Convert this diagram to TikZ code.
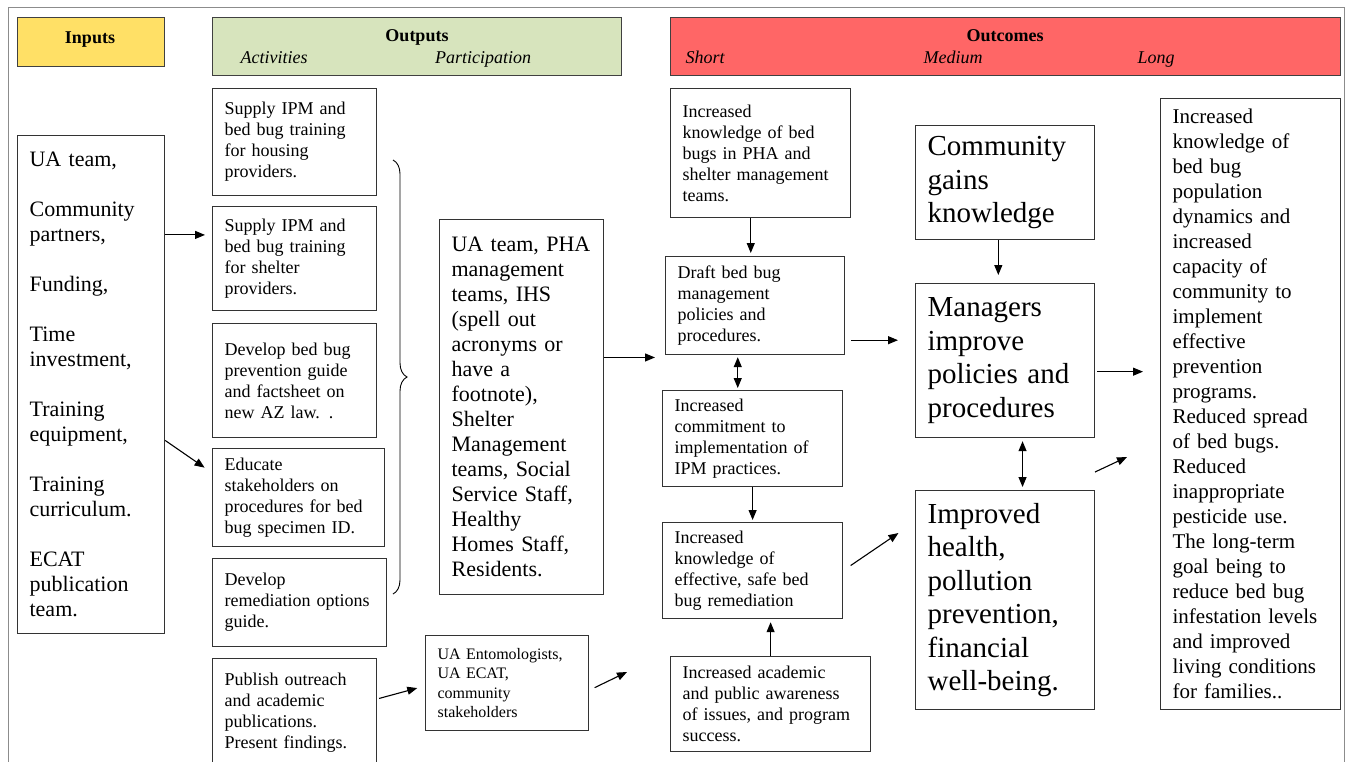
\documentclass[tikz,border=0pt]{standalone}
\usepackage{fontspec}
\setmainfont{Liberation Serif}
\usetikzlibrary{arrows.meta,decorations.pathreplacing}

\definecolor{inyellow}{RGB}{255,224,102}
\definecolor{outgreen}{RGB}{215,228,189}
\definecolor{outred}{RGB}{255,102,102}

\tikzset{
  box/.style={draw=black!80, line width=1.2pt, anchor=north west, align=left,
    inner xsep=12pt, inner ysep=6pt, font=\fontsize{18}{21}\selectfont},
  midbox/.style={box, font=\fontsize{22}{25}\selectfont},
  bigbox/.style={box, font=\fontsize{29}{33.5}\selectfont},
  head/.style={draw=black!75, line width=1.4pt, anchor=north west},
  title/.style={anchor=base, font=\bfseries\fontsize{18}{21}\selectfont},
  sub/.style={anchor=base, font=\itshape\fontsize{18}{21}\selectfont},
  arr/.style={-{Triangle[length=10pt,width=8pt]}, line width=1.1pt},
  dbl/.style={{Triangle[length=10pt,width=8pt]}-{Triangle[length=10pt,width=8pt]}, line width=1.1pt}
}

\begin{document}
\begin{tikzpicture}[x=1pt,y=-1pt]
\clip (0,0) rectangle (1351,761);
% outer frame
\draw[black!45, line width=1pt] (8,800) -- (8,7) -- (1344,7) -- (1344,800);

% headings
\node[head, fill=inyellow, minimum width=147pt, minimum height=49pt] (inhead) at (17,17) {};
\node[head, fill=outgreen, minimum width=409pt, minimum height=58pt] (outhead) at (212,17) {};
\node[head, fill=outred, minimum width=670pt, minimum height=58pt] (ochead) at (670,17) {};
\node[title] (intitle) at (90,43) {Inputs};
\node[title] (outtitle) at (417,41) {Outputs};
\node[sub] (acttitle) at (274,63) {Activities};
\node[sub] (parttitle) at (483,63) {Participation};
\node[title] (octitle) at (1005,41) {Outcomes};
\node[sub] (shorttitle) at (705,63) {Short};
\node[sub] (medtitle) at (953,63) {Medium};
\node[sub] (longtitle) at (1156,63) {Long};

% inputs
\node[midbox, text width=123pt, minimum height=498pt] (inputs) at (17,135)
  {UA team,\\[25pt]Community\\partners,\\[25pt]Funding,\\[25pt]Time\\investment,\\[25pt]Training\\equipment,\\[25pt]Training\\curriculum.\\[25pt]ECAT\\publication\\team.};

% activities
\node[box, text width=140pt, minimum height=107pt] (a1) at (212,88) {Supply IPM and\\bed bug training\\for housing\\providers.};
\node[box, text width=140pt, minimum height=104pt] (a2) at (212,206) {Supply IPM and\\bed bug training\\for shelter\\providers.};
\node[box, text width=140pt, minimum height=114pt] (a3) at (212,323) {Develop bed bug\\prevention guide\\and factsheet on\\new AZ law. .};
\node[box, text width=148pt, minimum height=98pt] (a4) at (212,448) {Educate\\stakeholders on\\procedures for bed\\bug specimen ID.};
\node[box, text width=150pt, minimum height=88pt] (a5) at (212,558) {Develop\\remediation options\\guide.};
\node[box, text width=140pt, minimum height=125pt] (a6) at (212,658) {Publish outreach\\and academic\\publications.\\Present findings.\\ \mbox{}};

% participation
\coordinate (bracetop) at (393,160);
\coordinate (bracebot) at (393,594);
\draw[decorate, decoration={brace, amplitude=14pt}, line width=0.9pt] (bracetop) -- (bracebot);
\node[midbox, text width=140pt, minimum height=375pt] (part) at (439,219)
  {UA team, PHA\\management\\teams, IHS\\(spell out\\acronyms or\\have a\\footnote),\\Shelter\\Management\\teams, Social\\Service Staff,\\Healthy\\Homes Staff,\\Residents.};
\node[box, font=\fontsize{16}{19.5}\selectfont, text width=139pt, minimum height=95pt] (uaent) at (425,635)
  {UA Entomologists,\\UA ECAT,\\community\\stakeholders};

% short term
\node[box, text width=156pt, minimum height=129pt] (s1) at (670,88) {Increased\\knowledge of bed\\bugs in PHA and\\shelter management\\teams.};
\node[box, text width=155pt, minimum height=98pt] (s2) at (665,256) {Draft bed bug\\management\\policies and\\procedures.};
\node[box, text width=156pt, minimum height=96pt] (s3) at (662,390) {Increased\\commitment to\\implementation of\\IPM practices.};
\node[box, text width=156pt, minimum height=96pt] (s4) at (662,522) {Increased\\knowledge of\\effective, safe bed\\bug remediation};
\node[box, text width=176pt, minimum height=95pt] (s5) at (670,656) {Increased academic\\and public awareness\\of issues, and program\\success.};

% medium term
\node[bigbox, text width=155pt, minimum height=114pt] (m1) at (915,125) {Community\\gains\\knowledge};
\node[bigbox, text width=155pt, minimum height=154pt] (m2) at (915,283) {Managers\\improve\\policies and\\procedures};
\node[bigbox, text width=155pt, minimum height=219pt] (m3) at (915,490) {Improved\\health,\\pollution\\prevention,\\financial\\well-being.};

% long term
\node[box, font=\fontsize{21}{25}\selectfont, text width=156pt, minimum height=611pt] (long) at (1160,98)
  {Increased\\knowledge of\\bed bug\\population\\dynamics and\\increased\\capacity of\\community to\\implement\\effective\\prevention\\programs.\\Reduced spread\\of bed bugs.\\Reduced\\inappropriate\\pesticide use.\\The long-term\\goal being to\\reduce bed bug\\infestation levels\\and improved\\living conditions\\for families..};

% arrows
\coordinate (uatip) at (627,672);
\coordinate (m3tail) at (1095,472);
\coordinate (m3tip) at (1127,457);
\draw[arr, shorten >=7pt] (inputs.east |- a2.164) -- (a2.164);
\draw[arr, shorten >=9pt] (inputs.-37) -- (a4.164);
\draw[arr, shorten <=2pt, shorten >=8pt] (a6.15) -- (uaent.182);
\draw[arr, shorten <=6pt] (uaent.-5) -- (uatip);
\draw[arr, shorten >=10pt] (part.31) -- (part.31 -| s2.west);
\draw[arr, shorten >=3pt] (s2.95 |- s1.south) -- (s2.95);
\draw[dbl, shorten <=2pt, shorten >=2pt] (s3.107 |- s2.south) -- (s3.107);
\draw[arr, shorten >=2pt] (s3.south) -- (s4.north);
\draw[arr, shorten >=3pt] (s5.north) -- (s5.north |- s4.south);
\draw[arr, shorten <=6pt, shorten >=17pt] (s2.-21) -- (s2.-21 -| m2.west);
\draw[arr, shorten <=9pt, shorten >=20pt] (s4.east) -- (m3.139);
\draw[arr, shorten >=8pt] (m2.95 |- m1.south) -- (m2.95);
\draw[dbl, shorten <=3pt, shorten >=3pt] (m3.81 |- m2.south) -- (m3.81);
\draw[arr, shorten <=2pt, shorten >=17pt] (m2.-7) -- (m2.-7 -| long.west);
\draw[arr] (m3tail) -- (m3tip);
\end{tikzpicture}
\end{document}
